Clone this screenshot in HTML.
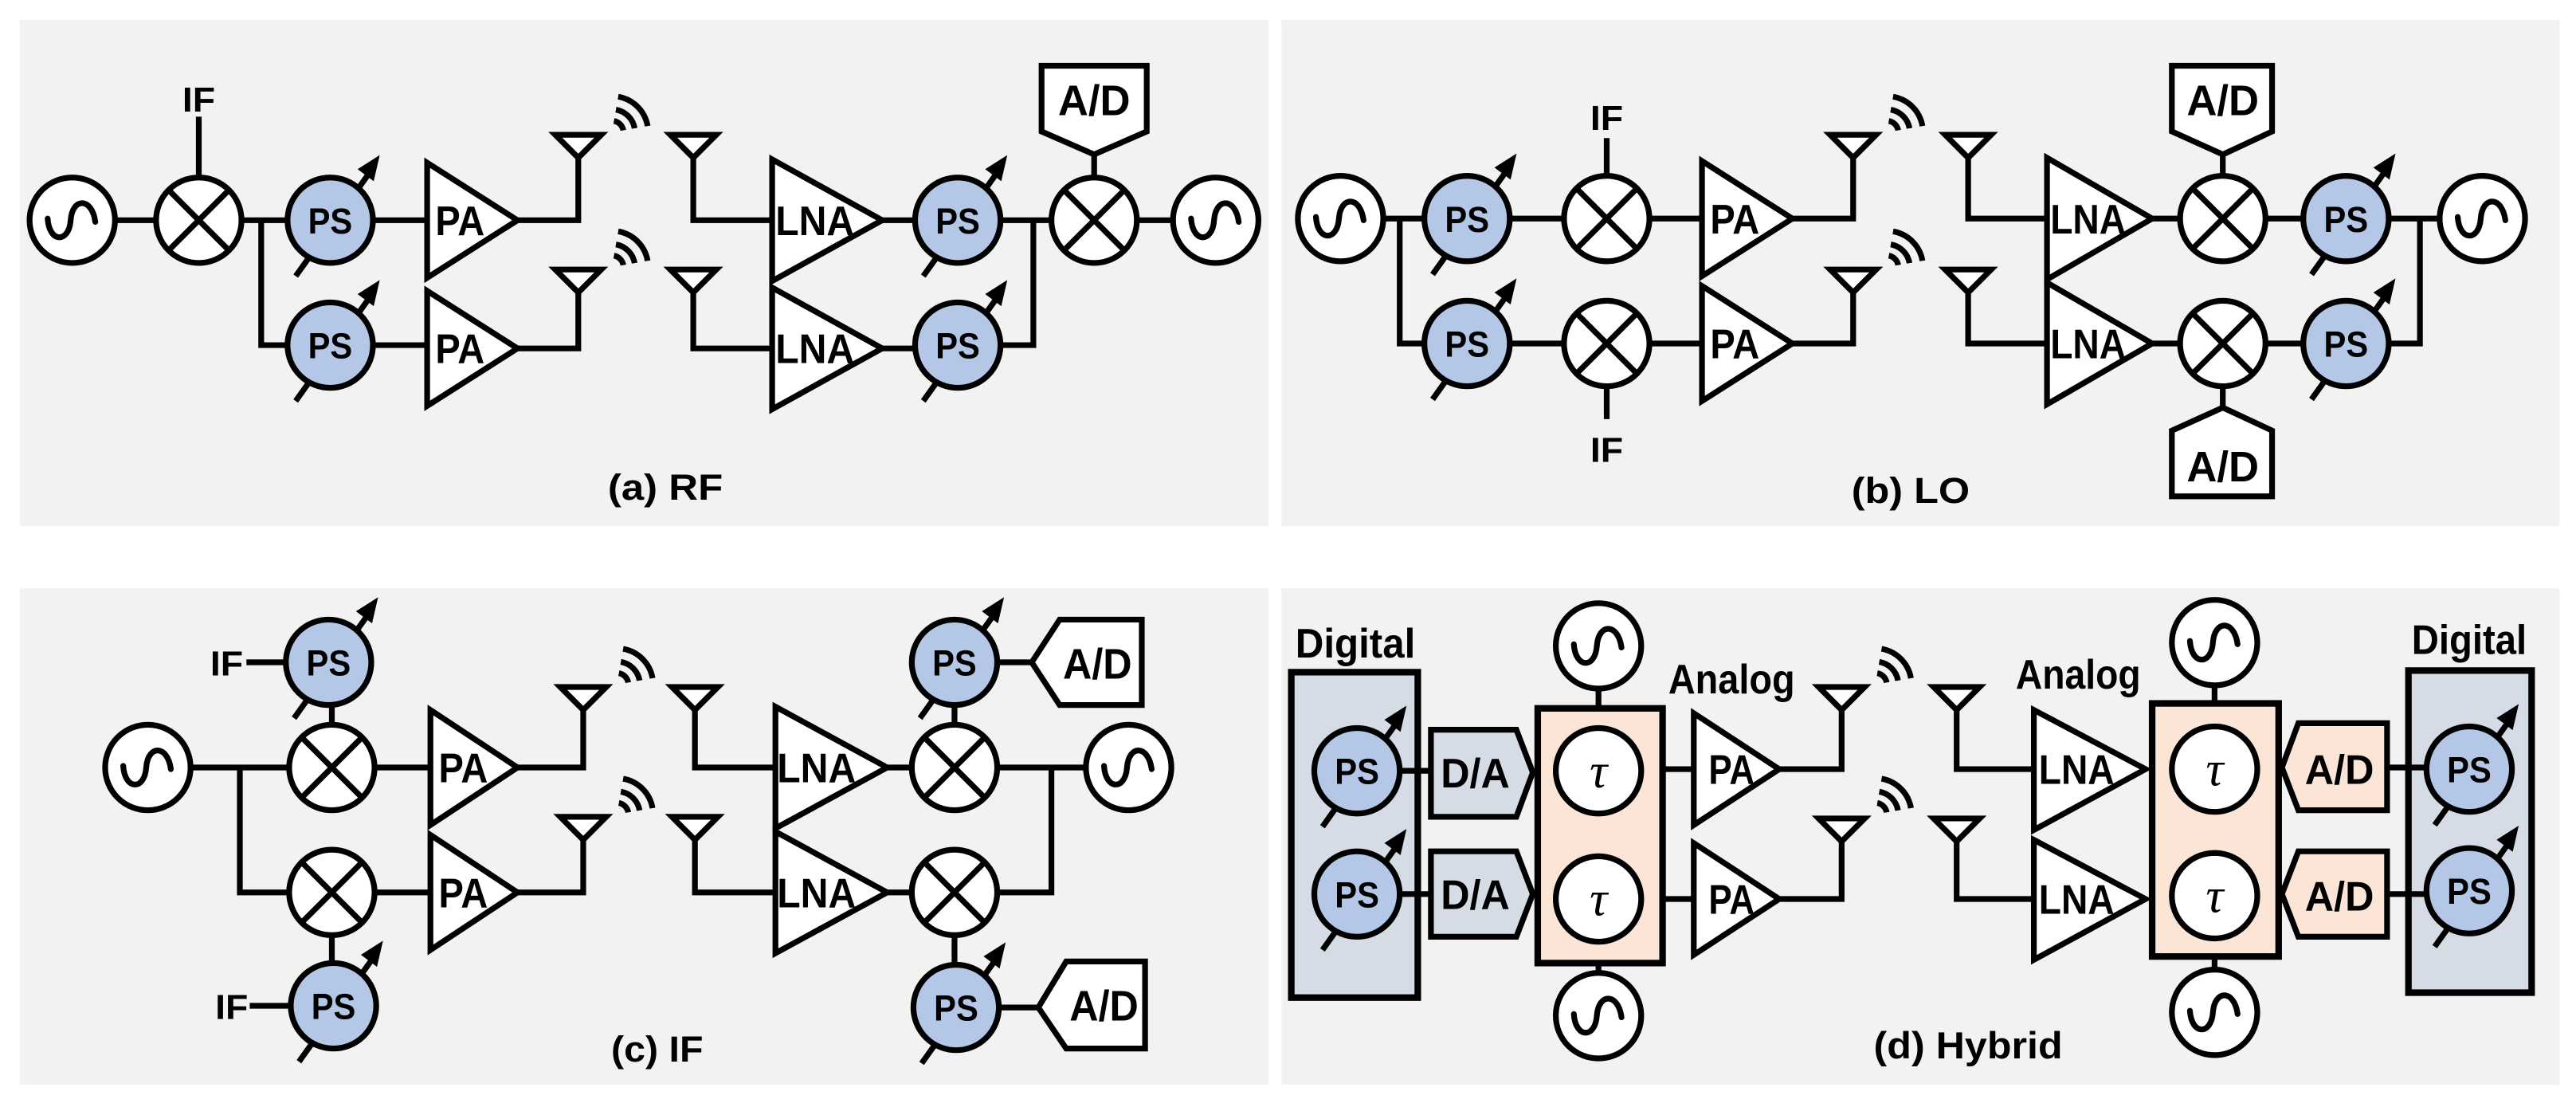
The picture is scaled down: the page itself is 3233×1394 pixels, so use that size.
<!DOCTYPE html>
<html><head><meta charset="utf-8"><style>
html,body{margin:0;padding:0;background:#fff;}
svg{display:block;}
text{font-family:"Liberation Sans",sans-serif;font-weight:bold;fill:#000;}
</style></head><body>
<svg width="3233" height="1394" viewBox="0 0 1568 676" preserveAspectRatio="none" xmlns="http://www.w3.org/2000/svg">
<defs>
<g id="osc"><circle r="26" fill="#fff" stroke="#000" stroke-width="3.5"/><path d="M-15 -1 C-14 14,-2 14,-1 0 S12 -14,14 1" fill="none" stroke="#000" stroke-width="3.5" stroke-linecap="round"/></g>
<g id="mix"><circle r="26" fill="#fff" stroke="#000" stroke-width="3.5"/><path d="M-18 -18 L18 18 M18 -18 L-18 18" stroke="#000" stroke-width="3.5"/></g>
<g id="ps"><line x1="-21" y1="34" x2="24" y2="-29" stroke="#000" stroke-width="3.5"/><polygon points="29,-38 18,-31 26,-25" fill="#000" stroke="#000" stroke-width="1.5"/><circle r="26" fill="#b4c7e7" stroke="#000" stroke-width="3.5"/></g>
<g id="tau"><circle r="26" fill="#fff" stroke="#000" stroke-width="3.5"/></g>
<g id="ant"><polygon points="-14,-14 14,-14 0,0" fill="#fff" stroke="#000" stroke-width="3.5" stroke-linejoin="miter"/></g>
<g id="arcs" fill="none" stroke="#000" stroke-width="3.5"><path d="M1.2 -6.9 A7 7 0 0 1 6.9 -1.2"/><path d="M2.4 -13.8 A14 14 0 0 1 13.8 -2.4"/><path d="M3.8 -21.7 A22 22 0 0 1 21.7 -3.8"/></g>
</defs>

<rect x="12" y="12" width="760" height="308" fill="#f2f2f2"/>
<rect x="780" y="12" width="778" height="308" fill="#f2f2f2"/>
<rect x="12" y="358" width="760" height="302" fill="#f2f2f2"/>
<rect x="780" y="358" width="778" height="302" fill="#f2f2f2"/>

<!-- (a) -->
<g stroke="#000" stroke-width="3.5" fill="none">
<path d="M70 134 H95 M147 134 H175 M227 134 H260 M315 134 H352 V96"/>
<path d="M159 134 V210 H175 M227 210 H260 M315 212 H352 V178"/>
<path d="M121 71 V108"/>
<path d="M422 96 V134 H470 M537 134 H557 M609 134 H640 M692 134 H714 M629 134 V210 H609"/>
<path d="M422 178 V212 H470 M537 212 H557"/>
<path d="M666 94 V108"/>
</g>
<use href="#osc" x="44" y="134"/>
<use href="#mix" x="121" y="134"/>
<use href="#ps" x="201" y="134"/>
<use href="#ps" x="201" y="210"/>
<polygon points="260,99 260,169 315,134" fill="#fff" stroke="#000" stroke-width="3.5"/>
<polygon points="260,177 260,247 315,212" fill="#fff" stroke="#000" stroke-width="3.5"/>
<use href="#ant" x="352" y="96"/><use href="#ant" x="352" y="178"/>
<use href="#arcs" x="372.5" y="80.5"/><use href="#arcs" x="372.5" y="162.5"/>
<use href="#ant" x="422" y="96"/><use href="#ant" x="422" y="178"/>
<polygon points="470,97 470,171 537,134" fill="#fff" stroke="#000" stroke-width="3.5"/>
<polygon points="470,175 470,249 537,212" fill="#fff" stroke="#000" stroke-width="3.5"/>
<use href="#ps" x="583" y="134"/>
<use href="#ps" x="583" y="210"/>
<use href="#mix" x="666" y="134"/>
<use href="#osc" x="740" y="134"/>
<polygon points="634,40 698,40 698,80 666,94 634,80" fill="#fff" stroke="#000" stroke-width="3.5"/>
<text x="121" y="68" font-size="21" text-anchor="middle" textLength="20" lengthAdjust="spacingAndGlyphs">IF</text>
<text x="201" y="142" font-size="22" text-anchor="middle" textLength="27" lengthAdjust="spacingAndGlyphs">PS</text>
<text x="201" y="218" font-size="22" text-anchor="middle" textLength="27" lengthAdjust="spacingAndGlyphs">PS</text>
<text x="280" y="143" font-size="25" text-anchor="middle" textLength="30" lengthAdjust="spacingAndGlyphs">PA</text>
<text x="280" y="221" font-size="25" text-anchor="middle" textLength="30" lengthAdjust="spacingAndGlyphs">PA</text>
<text x="496" y="143" font-size="25" text-anchor="middle" textLength="48" lengthAdjust="spacingAndGlyphs">LNA</text>
<text x="496" y="221" font-size="25" text-anchor="middle" textLength="48" lengthAdjust="spacingAndGlyphs">LNA</text>
<text x="583" y="142" font-size="22" text-anchor="middle" textLength="27" lengthAdjust="spacingAndGlyphs">PS</text>
<text x="583" y="218" font-size="22" text-anchor="middle" textLength="27" lengthAdjust="spacingAndGlyphs">PS</text>
<text x="666" y="70" font-size="26" text-anchor="middle" textLength="44" lengthAdjust="spacingAndGlyphs">A/D</text>
<text x="405" y="304" font-size="22" text-anchor="middle" textLength="70" lengthAdjust="spacingAndGlyphs">(a) RF</text>

<!-- (b) -->
<g stroke="#000" stroke-width="3.5" fill="none">
<path d="M842 133 H867 M919 133 H952 M1004 133 H1036 M1091 133 H1128 V96"/>
<path d="M852 133 V209 H867 M919 209 H952 M1004 209 H1036 M1091 209 H1128 V178"/>
<path d="M978 84 V107 M978 235 V255"/>
<path d="M1198 96 V133 H1246 M1310 133 H1327 M1379 133 H1402 M1454 133 H1485 M1473 133 V209 H1454"/>
<path d="M1198 178 V209 H1246 M1310 209 H1327 M1379 209 H1402"/>
<path d="M1353 94 V107 M1353 235 V248"/>
</g>
<use href="#osc" x="816" y="133"/>
<use href="#ps" x="893" y="133"/>
<use href="#ps" x="893" y="209"/>
<use href="#mix" x="978" y="133"/>
<use href="#mix" x="978" y="209"/>
<polygon points="1036,98 1036,168 1091,133" fill="#fff" stroke="#000" stroke-width="3.5"/>
<polygon points="1036,174 1036,244 1091,209" fill="#fff" stroke="#000" stroke-width="3.5"/>
<use href="#ant" x="1128" y="96"/><use href="#ant" x="1128" y="178"/>
<use href="#arcs" x="1148.5" y="80.5"/><use href="#arcs" x="1148.5" y="162.5"/>
<use href="#ant" x="1198" y="96"/><use href="#ant" x="1198" y="178"/>
<polygon points="1246,96 1246,170 1310,133" fill="#fff" stroke="#000" stroke-width="3.5"/>
<polygon points="1246,172 1246,246 1310,209" fill="#fff" stroke="#000" stroke-width="3.5"/>
<use href="#mix" x="1353" y="133"/>
<use href="#mix" x="1353" y="209"/>
<use href="#ps" x="1428" y="133"/>
<use href="#ps" x="1428" y="209"/>
<use href="#osc" x="1511" y="133"/>
<polygon points="1322,40 1383,40 1383,80 1353,94 1322,80" fill="#fff" stroke="#000" stroke-width="3.5"/>
<polygon points="1322,302 1383,302 1383,262 1353,248 1322,262" fill="#fff" stroke="#000" stroke-width="3.5"/>
<text x="978" y="79" font-size="21" text-anchor="middle" textLength="20" lengthAdjust="spacingAndGlyphs">IF</text>
<text x="978" y="281" font-size="21" text-anchor="middle" textLength="20" lengthAdjust="spacingAndGlyphs">IF</text>
<text x="893" y="141" font-size="22" text-anchor="middle" textLength="27" lengthAdjust="spacingAndGlyphs">PS</text>
<text x="893" y="217" font-size="22" text-anchor="middle" textLength="27" lengthAdjust="spacingAndGlyphs">PS</text>
<text x="1056" y="142" font-size="25" text-anchor="middle" textLength="30" lengthAdjust="spacingAndGlyphs">PA</text>
<text x="1056" y="218" font-size="25" text-anchor="middle" textLength="30" lengthAdjust="spacingAndGlyphs">PA</text>
<text x="1271" y="142" font-size="25" text-anchor="middle" textLength="46" lengthAdjust="spacingAndGlyphs">LNA</text>
<text x="1271" y="218" font-size="25" text-anchor="middle" textLength="46" lengthAdjust="spacingAndGlyphs">LNA</text>
<text x="1428" y="141" font-size="22" text-anchor="middle" textLength="27" lengthAdjust="spacingAndGlyphs">PS</text>
<text x="1428" y="217" font-size="22" text-anchor="middle" textLength="27" lengthAdjust="spacingAndGlyphs">PS</text>
<text x="1353" y="70" font-size="26" text-anchor="middle" textLength="44" lengthAdjust="spacingAndGlyphs">A/D</text>
<text x="1353" y="293" font-size="26" text-anchor="middle" textLength="44" lengthAdjust="spacingAndGlyphs">A/D</text>
<text x="1163" y="306" font-size="22" text-anchor="middle" textLength="72" lengthAdjust="spacingAndGlyphs">(b) LO</text>

<!-- (c) -->
<g stroke="#000" stroke-width="3.5" fill="none">
<path d="M116 467 H176 M228 467 H262 M315 467 H355 V432"/>
<path d="M146 467 V543 H176 M228 543 H262 M315 543 H355 V511"/>
<path d="M202 441 V429 M202 569 V586"/>
<path d="M150 403 H174 M152 612 H177"/>
<path d="M423 432 V467 H472 M540 467 H555 M607 467 H661 M640 467 V543 H607"/>
<path d="M423 511 V543 H472 M540 543 H555"/>
<path d="M581 441 V429 M581 569 V587"/>
<path d="M607 403 H628 M608 613 H632"/>
</g>
<use href="#osc" x="90" y="467"/>
<use href="#ps" x="200" y="403"/>
<use href="#ps" x="203" y="612"/>
<use href="#mix" x="202" y="467"/>
<use href="#mix" x="202" y="543"/>
<polygon points="262,432 262,502 315,467" fill="#fff" stroke="#000" stroke-width="3.5"/>
<polygon points="262,508 262,578 315,543" fill="#fff" stroke="#000" stroke-width="3.5"/>
<use href="#ant" x="355" y="432"/><use href="#ant" x="355" y="511"/>
<use href="#arcs" x="375.5" y="416.5"/><use href="#arcs" x="375.5" y="495.5"/>
<use href="#ant" x="423" y="432"/><use href="#ant" x="423" y="511"/>
<polygon points="472,430 472,504 540,467" fill="#fff" stroke="#000" stroke-width="3.5"/>
<polygon points="472,506 472,580 540,543" fill="#fff" stroke="#000" stroke-width="3.5"/>
<use href="#ps" x="581" y="403"/>
<use href="#ps" x="582" y="613"/>
<use href="#mix" x="581" y="467"/>
<use href="#mix" x="581" y="543"/>
<use href="#osc" x="687" y="467"/>
<polygon points="628,403 645,377 695,377 695,429 645,429" fill="#fff" stroke="#000" stroke-width="3.5"/>
<polygon points="632,613 649,585 697,585 697,638 649,638" fill="#fff" stroke="#000" stroke-width="3.5"/>
<text x="148" y="411" font-size="21" text-anchor="end" textLength="20" lengthAdjust="spacingAndGlyphs">IF</text>
<text x="151" y="620" font-size="21" text-anchor="end" textLength="20" lengthAdjust="spacingAndGlyphs">IF</text>
<text x="200" y="411" font-size="22" text-anchor="middle" textLength="27" lengthAdjust="spacingAndGlyphs">PS</text>
<text x="203" y="620" font-size="22" text-anchor="middle" textLength="27" lengthAdjust="spacingAndGlyphs">PS</text>
<text x="282" y="476" font-size="25" text-anchor="middle" textLength="30" lengthAdjust="spacingAndGlyphs">PA</text>
<text x="282" y="552" font-size="25" text-anchor="middle" textLength="30" lengthAdjust="spacingAndGlyphs">PA</text>
<text x="497" y="476" font-size="25" text-anchor="middle" textLength="48" lengthAdjust="spacingAndGlyphs">LNA</text>
<text x="497" y="552" font-size="25" text-anchor="middle" textLength="48" lengthAdjust="spacingAndGlyphs">LNA</text>
<text x="581" y="411" font-size="22" text-anchor="middle" textLength="27" lengthAdjust="spacingAndGlyphs">PS</text>
<text x="582" y="621" font-size="22" text-anchor="middle" textLength="27" lengthAdjust="spacingAndGlyphs">PS</text>
<text x="668" y="413" font-size="26" text-anchor="middle" textLength="42" lengthAdjust="spacingAndGlyphs">A/D</text>
<text x="672" y="621" font-size="26" text-anchor="middle" textLength="42" lengthAdjust="spacingAndGlyphs">A/D</text>
<text x="400" y="646" font-size="22" text-anchor="middle" textLength="56" lengthAdjust="spacingAndGlyphs">(c) IF</text>

<!-- (d) -->
<rect x="786" y="409" width="77" height="198" fill="#d6dce5" stroke="#000" stroke-width="4"/>
<rect x="1466" y="408" width="75" height="196" fill="#d6dce5" stroke="#000" stroke-width="4"/>
<g stroke="#000" stroke-width="3.5" fill="none">
<path d="M852 469 H871 M852 544 H871"/>
<path d="M973 419 V431 M973 586 V592"/>
<path d="M1012 468 H1031 M1083 468 H1121 V432 M1012 547 H1031 M1083 547 H1121 V512"/>
<path d="M1191 432 V468 H1238 M1191 512 V547 H1238"/>
<path d="M1348 417 V428 M1348 582 V590"/>
<path d="M1453 467 H1477 M1453 544 H1477"/>
</g>
<use href="#ps" x="826" y="469"/>
<use href="#ps" x="826" y="544"/>
<polygon points="871,444 923,444 933,470 923,497 871,497" fill="#d6dce5" stroke="#000" stroke-width="3.5"/>
<polygon points="871,518 923,518 933,544 923,570 871,570" fill="#d6dce5" stroke="#000" stroke-width="3.5"/>
<rect x="936" y="431" width="76" height="155" fill="#fbe5d6" stroke="#000" stroke-width="4"/>
<use href="#tau" x="973" y="469"/>
<use href="#tau" x="973" y="547"/>
<use href="#osc" x="973" y="393"/>
<use href="#osc" x="973" y="618"/>
<polygon points="1031,434 1031,502 1083,468" fill="#fff" stroke="#000" stroke-width="3.5"/>
<polygon points="1031,513 1031,581 1083,547" fill="#fff" stroke="#000" stroke-width="3.5"/>
<use href="#ant" x="1121" y="432"/><use href="#ant" x="1121" y="512"/>
<use href="#arcs" x="1141.5" y="416.5"/><use href="#arcs" x="1141.5" y="495.5"/>
<use href="#ant" x="1191" y="432"/><use href="#ant" x="1191" y="512"/>
<polygon points="1238,432 1238,505 1306,468" fill="#fff" stroke="#000" stroke-width="3.5"/>
<polygon points="1238,511 1238,584 1306,547" fill="#fff" stroke="#000" stroke-width="3.5"/>
<rect x="1310" y="428" width="77" height="154" fill="#fbe5d6" stroke="#000" stroke-width="4"/>
<use href="#tau" x="1348" y="468"/>
<use href="#tau" x="1348" y="545"/>
<use href="#osc" x="1348" y="391"/>
<use href="#osc" x="1348" y="616"/>
<polygon points="1389,467 1399,440 1453,440 1453,493 1399,493" fill="#fbe5d6" stroke="#000" stroke-width="3.5"/>
<polygon points="1389,544 1399,518 1453,518 1453,570 1399,570" fill="#fbe5d6" stroke="#000" stroke-width="3.5"/>
<use href="#ps" x="1503" y="468"/>
<use href="#ps" x="1503" y="542"/>
<text x="825" y="400" font-size="25" text-anchor="middle" textLength="73" lengthAdjust="spacingAndGlyphs">Digital</text>
<text x="1503" y="398" font-size="25" text-anchor="middle" textLength="70" lengthAdjust="spacingAndGlyphs">Digital</text>
<text x="1054" y="422" font-size="25" text-anchor="middle" textLength="77" lengthAdjust="spacingAndGlyphs">Analog</text>
<text x="1265" y="419" font-size="25" text-anchor="middle" textLength="76" lengthAdjust="spacingAndGlyphs">Analog</text>
<text x="826" y="477" font-size="22" text-anchor="middle" textLength="27" lengthAdjust="spacingAndGlyphs">PS</text>
<text x="826" y="552" font-size="22" text-anchor="middle" textLength="27" lengthAdjust="spacingAndGlyphs">PS</text>
<text x="898" y="479" font-size="25" text-anchor="middle" textLength="42" lengthAdjust="spacingAndGlyphs">D/A</text>
<text x="898" y="553" font-size="25" text-anchor="middle" textLength="42" lengthAdjust="spacingAndGlyphs">D/A</text>
<text x="973" y="479" font-size="30" text-anchor="middle" style="font-family:'Liberation Serif',serif;font-style:italic;font-weight:normal">τ</text>
<text x="973" y="557" font-size="30" text-anchor="middle" style="font-family:'Liberation Serif',serif;font-style:italic;font-weight:normal">τ</text>
<text x="1348" y="478" font-size="30" text-anchor="middle" style="font-family:'Liberation Serif',serif;font-style:italic;font-weight:normal">τ</text>
<text x="1348" y="555" font-size="30" text-anchor="middle" style="font-family:'Liberation Serif',serif;font-style:italic;font-weight:normal">τ</text>
<text x="1054" y="477" font-size="25" text-anchor="middle" textLength="28" lengthAdjust="spacingAndGlyphs">PA</text>
<text x="1054" y="556" font-size="25" text-anchor="middle" textLength="28" lengthAdjust="spacingAndGlyphs">PA</text>
<text x="1264" y="477" font-size="25" text-anchor="middle" textLength="46" lengthAdjust="spacingAndGlyphs">LNA</text>
<text x="1264" y="556" font-size="25" text-anchor="middle" textLength="46" lengthAdjust="spacingAndGlyphs">LNA</text>
<text x="1424" y="477" font-size="25" text-anchor="middle" textLength="42" lengthAdjust="spacingAndGlyphs">A/D</text>
<text x="1424" y="554" font-size="25" text-anchor="middle" textLength="42" lengthAdjust="spacingAndGlyphs">A/D</text>
<text x="1503" y="476" font-size="22" text-anchor="middle" textLength="27" lengthAdjust="spacingAndGlyphs">PS</text>
<text x="1503" y="550" font-size="22" text-anchor="middle" textLength="27" lengthAdjust="spacingAndGlyphs">PS</text>
<text x="1198" y="644" font-size="23" text-anchor="middle" textLength="115" lengthAdjust="spacingAndGlyphs">(d) Hybrid</text>
</svg>
</body></html>
